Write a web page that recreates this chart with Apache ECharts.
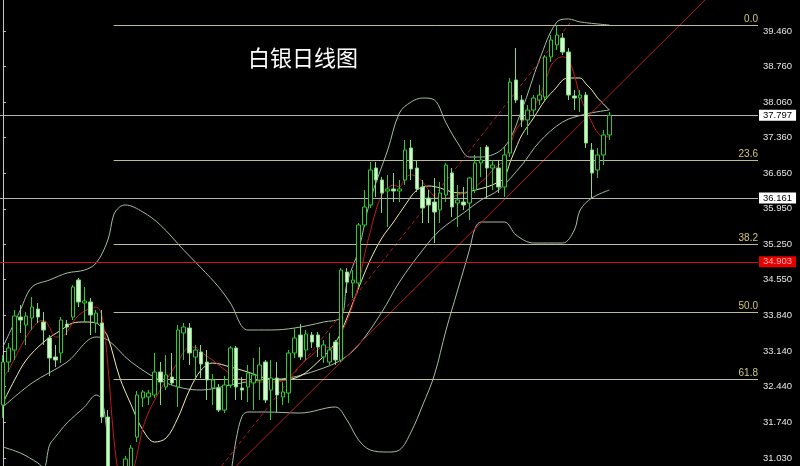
<!DOCTYPE html>
<html><head><meta charset="utf-8">
<script src="https://cdn.jsdelivr.net/npm/echarts@6/dist/echarts.min.js"></script>
<style>html,body{margin:0;padding:0;background:#000;}#c{width:800px;height:466px;}</style>
</head><body><div id="c"></div>
<script>
// ---- candle values (open, close, low, high) ----
const opens = [32.076,32.925,33.162,33.813,33.655,33.794,33.971,33.715,33.399,33.024,
33.103,33.675,33.813,34.544,34.090,34.110,33.695,33.695,31.839,29.700,
29.950,30.500,30.850,31.444,32.215,32.234,32.274,32.728,32.432,32.629,
32.432,33.498,33.596,33.024,33.123,32.925,32.412,32.412,31.977,32.471,
33.202,32.412,32.432,32.511,32.570,32.925,32.372,32.609,32.234,32.313,
33.103,33.458,33.162,33.458,33.458,33.024,32.925,33.320,32.965,34.702,
34.485,34.485,35.630,36.025,36.755,36.518,36.301,36.341,36.301,36.518,
37.150,36.755,36.380,36.163,36.084,35.926,36.222,36.657,36.064,36.084,
36.064,36.321,36.854,37.170,36.755,36.755,36.380,37.051,38.493,38.098,
37.703,37.900,38.098,38.157,38.947,39.184,39.322,39.045,38.177,38.137,
38.196,37.111,36.716,37.012,37.407];
const closes = [32.925,33.202,33.833,33.754,33.833,34.011,33.813,33.557,33.004,32.965,
33.754,33.616,34.406,34.110,34.130,33.853,33.892,31.839,29.700,29.950,
30.550,31.010,31.227,32.274,32.333,32.313,32.728,32.530,32.669,32.511,
33.557,33.616,33.103,33.162,32.886,32.570,32.570,31.977,32.471,33.202,
32.432,32.372,32.708,32.669,32.866,32.175,32.609,32.274,32.333,33.103,
33.399,33.024,33.478,33.320,33.221,33.261,33.162,32.965,34.741,34.504,
34.544,35.630,35.985,36.716,36.518,36.262,36.341,36.301,36.341,37.111,
36.735,36.341,35.965,36.025,35.886,36.262,36.814,35.985,36.123,36.025,
36.558,36.854,36.913,36.755,36.814,36.380,37.012,38.453,38.098,37.703,
37.900,38.137,38.196,38.947,39.282,39.381,39.045,38.196,38.137,38.196,
37.249,36.657,37.012,37.407,37.797];
const lows = [31.819,32.728,32.965,33.498,33.261,33.557,33.695,33.261,32.649,32.826,
32.905,33.458,33.754,34.011,33.715,33.458,33.498,31.721,29.500,28.250,
29.600,30.300,30.700,31.345,32.037,32.076,32.215,32.076,32.372,32.471,
32.037,32.965,32.866,32.629,32.609,32.175,32.076,31.938,31.918,32.412,
32.175,32.175,32.135,31.977,32.175,32.116,31.780,31.938,32.076,32.116,
33.004,32.965,32.965,33.202,33.024,32.905,32.866,32.866,32.925,34.287,
34.189,34.406,35.590,35.965,36.183,35.867,35.590,36.084,36.084,36.420,
36.518,36.281,35.669,35.669,35.274,35.669,36.084,35.788,35.590,35.926,
35.729,36.262,36.577,36.163,36.321,36.262,36.183,36.972,38.039,37.565,
37.407,37.802,37.999,38.098,38.848,39.085,38.986,38.098,37.900,37.861,
37.150,36.161,36.558,36.814,37.308];
const highs = [33.063,33.300,33.952,34.050,33.912,34.208,34.090,33.912,33.458,33.261,
33.813,33.754,34.445,34.583,34.406,34.189,33.952,33.952,31.977,30.350,
30.750,31.069,31.286,32.352,32.372,32.372,33.103,32.925,33.063,33.103,
33.655,33.695,33.695,33.261,33.261,33.162,32.688,32.491,32.649,33.241,
33.241,32.629,32.866,33.004,33.221,32.965,32.965,32.925,32.530,33.162,
33.596,33.675,33.557,33.517,33.517,33.359,33.498,33.359,34.781,34.781,
34.741,35.669,36.321,36.874,36.874,36.577,36.617,36.657,36.518,37.308,
37.308,36.913,36.518,36.321,36.558,36.479,36.854,36.755,36.420,36.380,
36.577,37.012,37.170,37.209,36.913,36.913,37.170,38.532,39.124,38.196,
37.999,38.196,38.394,38.986,39.381,39.578,39.420,39.124,38.295,38.295,
38.256,37.249,37.150,37.506,37.861];

// ---- overlay lines, [candle index, price] ----
const maRed = [[0,32.61],[1,32.77],[4,33.42],[6,33.71],[7,33.75],[8,33.61],[9,33.42],[10,33.42],[11,33.52],[12,33.71],[13,33.85],[14,33.93],[15,33.99],[16,34.01],[17,33.83],[18,32.86],[19,31.44],[20,30.59],[21,30.20],[22,30.59],[23,31.09],[24,31.62],[25,31.94],[26,32.17],[28,32.57],[30,32.92],[31,33.12],[32,33.22],[33,33.22],[34,33.12],[36,32.96],[38,32.77],[40,32.63],[42,32.53],[45,32.53],[48,32.55],[49,32.61],[50,32.73],[51,32.86],[53,33.06],[55,33.22],[57,33.20],[58,33.48],[59,33.73],[60,34.05],[61,34.45],[62,35.04],[63,35.49],[64,35.93],[65,36.22],[66,36.36],[67,36.42],[68,36.38],[69,36.56],[70,36.62],[71,36.58],[72,36.48],[73,36.32],[74,36.20],[75,36.16],[76,36.16],[77,36.18],[78,36.22],[79,36.26],[80,36.32],[81,36.38],[82,36.48],[83,36.58],[84,36.72],[85,36.81],[86,36.91],[87,37.21],[88,37.51],[89,37.66],[90,37.80],[91,37.96],[92,38.16],[93,38.45],[94,38.77],[95,38.91],[96,38.95],[97,38.89],[98,38.59],[99,38.16],[100,37.90],[101,37.66],[102,37.45],[103,37.37],[104,37.37]];
const maYellow = [[0,32.116],[2,32.570],[4,32.965],[7,33.320],[10,33.557],[12,33.695],[14,33.715],[16,33.695],[17,33.596],[18,33.419],[20,32.629],[22,32.076],[24,31.583],[26,31.345],[28,31.425],[30,31.819],[32,32.372],[34,32.767],[36,32.905],[39,32.826],[42,32.728],[45,32.609],[48,32.570],[51,32.649],[54,32.925],[57,33.300],[59,33.794],[61,34.386],[63,34.939],[65,35.373],[67,35.689],[69,36.025],[71,36.321],[73,36.400],[75,36.360],[77,36.281],[79,36.262],[81,36.321],[83,36.380],[85,36.479],[86,36.558],[87,36.874],[88,37.150],[89,37.407],[91,37.742],[93,38.098],[95,38.354],[96,38.493],[97,38.532],[99,38.532],[100,38.414],[101,38.295],[102,38.137],[103,38.019],[104,37.900]];
const bollMid = [[0,32.037],[5,32.511],[11,32.925],[16,33.419],[18,33.359],[22,32.925],[28,32.511],[34,32.372],[39,32.471],[44,32.570],[49,32.609],[54,32.767],[58,32.965],[61,33.261],[65,33.912],[68,34.504],[72,35.136],[75,35.531],[79,35.867],[82,36.123],[85,36.321],[89,36.814],[92,37.269],[96,37.663],[100,37.821],[104,37.900]];
const bollUpper = [[0,33.221],[3,33.952],[5,34.406],[8,34.544],[11,34.682],[14,34.741],[16,34.880],[18,35.334],[19,35.827],[20,35.985],[21,36.025],[24,35.887],[27,35.630],[31,35.136],[34,34.781],[37,34.406],[39,34.090],[42,33.557],[46,33.557],[50,33.596],[55,33.715],[58,33.814],[59,34.485],[61,35.136],[63,36.123],[66,37.111],[68,37.841],[70,38.058],[72,38.137],[74,38.098],[76,37.644],[78,37.249],[80,36.972],[82,36.972],[86,37.170],[89,37.900],[92,38.887],[95,39.638],[97,39.697],[99,39.638],[104,39.578]];
const bollLower = [[0,31.247],[3,31.128],[6,30.931],[7,30.832],[8,31.286],[9,31.444],[11,31.721],[14,32.037],[16,32.274],[17,32.175],[18,31.385],[19,30.40],[38,30.40],[39,30.70],[40,31.40],[41,31.85],[42,31.938],[45,31.938],[51,31.918],[57,32.037],[59,31.780],[61,31.385],[63,31.188],[66,31.148],[68,31.188],[70,31.543],[72,32.076],[74,32.669],[76,33.557],[78,34.347],[80,35.136],[81,35.571],[82,35.689],[86,35.689],[88,35.433],[91,35.274],[96,35.274],[98,35.531],[99,35.926],[101,36.163],[104,36.321]];
const trendSolid = [[40,30.87],[120.4,40.07]];
const trendDashed = [[37.5,30.87],[97.4,39.64]];

// ---- levels and ticks ----
const tickLabels = [31.030,31.740,32.440,33.140,33.840,34.550,35.250,35.950,36.650,37.360,38.060,38.760,39.460];
const fibPrices = [39.578,36.905,35.251,33.914,32.577];
const fibNames = ['0.0','23.6','38.2','50.0','61.8'];
const fibStartIndex = 19;
const priceLines = [37.797,36.161];
const bidPrice = 34.903;
const slotCount = 130;

const categories = [];
for (let i = 0; i < slotCount; i++) categories.push(String(i));
const candleData = opens.map((o, i) => [o, closes[i], lows[i], highs[i]]);

const chart = echarts.init(document.getElementById('c'), null, {renderer: 'canvas'});

const fibMark = fibPrices.map((p, i) => [
  {coord: [fibStartIndex, p], label: {formatter: fibNames[i]}},
  {coord: [slotCount - 0.5, p]}
]);

function tagLine(value, lineColor, bg, fg) {
  return {
    yAxis: value, lineStyle: {color: lineColor, width: 1, type: 'solid'},
    label: {show: true, position: 'end', distance: 1, formatter: value.toFixed(3),
            backgroundColor: bg, color: fg, fontSize: 9.5, fontFamily: 'Liberation Sans', padding: [1, 4, 0, 4]}
  };
}

function lineSeries(data, color, extra) {
  return Object.assign({
    type: 'line', xAxisIndex: 1, data: data, symbol: 'none', smooth: 0.35,
    lineStyle: {color: color, width: 1}, silent: true, z: 3
  }, extra || {});
}

const option = {
  animation: false,
  backgroundColor: '#000',
  title: {
    text: '白银日线图', left: 243, top: 42,
    textStyle: {color: '#ffffff', fontSize: 22, fontWeight: 'normal', fontFamily: 'Noto Sans CJK SC'}
  },
  grid: {left: -1, right: 42, top: 0, bottom: 0, containLabel: false},
  xAxis: [
    {type: 'category', data: categories, show: false, boundaryGap: true},
    {type: 'value', min: -0.5, max: slotCount - 0.5, show: false}
  ],
  yAxis: {
    type: 'value', position: 'right', min: 30.872, max: 40.072, scale: true,
    axisLine: {show: true, lineStyle: {color: '#c8c8c8', width: 1}},
    axisTick: {show: true, length: 3, customValues: tickLabels, lineStyle: {color: '#c8c8c8'}},
    axisLabel: {
      customValues: tickLabels, formatter: v => Number(v).toFixed(3),
      color: '#e6e6e6', fontSize: 9.5, fontFamily: 'Liberation Sans', margin: 5
    },
    splitLine: {show: false}
  },
  series: [
    {
      type: 'candlestick', data: candleData, barWidth: 4, z: 5,
      itemStyle: {color: '#000000', color0: '#d4f6cc', borderColor: '#2ccc2c', borderColor0: '#7edc7e', borderWidth: 1},
      markLine: {
        symbol: ['none', 'none'], silent: true, animation: false, precision: 3,
        data: [
          tagLine(priceLines[0], '#b4b4b4', '#ffffff', '#000000'),
          tagLine(priceLines[1], '#b4b4b4', '#ffffff', '#000000'),
          tagLine(bidPrice, '#d01414', '#e80000', '#ffb0b0')
        ]
      }
    },
    lineSeries(bollUpper, '#a4bca4'),
    lineSeries(bollLower, '#a4bca4'),
    lineSeries(bollMid, '#a4bca4', {
      markLine: {
        symbol: ['none', 'none'], silent: true, animation: false,
        lineStyle: {color: '#bcbc90', width: 1, type: 'solid'},
        label: {show: true, position: 'insideEndTop', distance: [0, 1], color: '#d0c878', fontSize: 10, fontFamily: 'Liberation Sans'},
        data: fibMark
      }
    }),
    lineSeries(maYellow, '#eeeea4'),
    lineSeries(maRed, '#c41818'),
    lineSeries(trendSolid, '#b81c1c', {smooth: false}),
    lineSeries(trendDashed, '#b81c1c', {smooth: false, lineStyle: {color: '#b81c1c', width: 1, type: [4, 3]}})
  ]
};
chart.setOption(option);
</script>
</body></html>
